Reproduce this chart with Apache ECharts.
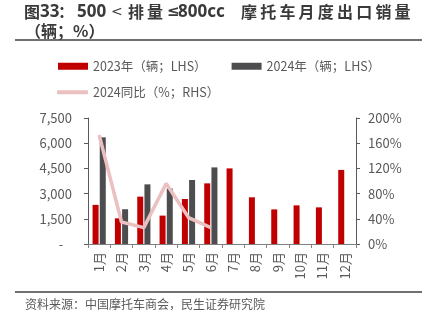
<!DOCTYPE html>
<html><head><meta charset="utf-8">
<script src="https://cdn.jsdelivr.net/npm/echarts@6/dist/echarts.min.js"></script>
<style>html,body{margin:0;padding:0;background:#fff}#c{width:436px;height:321px}</style>
</head><body><div id="c"></div>
<script>
var categories = ['1月','2月','3月','4月','5月','6月','7月','8月','9月','10月','11月','12月'];
var sales2023 = [2330, 1530, 2820, 1690, 2680, 3610, 4500, 2780, 2060, 2300, 2180, 4410];
var sales2024 = [6350, 2070, 3550, 3300, 3810, 4560, null, null, null, null, null, null];
var yoy2024 = [173, 35, 26, 96, 42, 26, null, null, null, null, null, null];
var leftTicks = [0, 7500, 1500];
var rightTicks = [0, 200, 40];

var font = '"Noto Sans CJK SC", "Noto Sans", sans-serif';
var latin = '"Noto Sans", "DejaVu Sans", sans-serif';
var grey = '#595959';
var titleColor = '#3a3a3a';
var cjkFont = 'bold 16px ' + font;
var latFont = 'bold 17px ' + latin;

// title pieces laid out to mimic the wide spacing of the original
var graphics = [];
function tpiece(text, x, f, y) {
  graphics.push({type: 'text', x: x, y: y || 12,
    style: {text: text, font: f, fill: titleColor, verticalAlign: 'middle'}});
}
tpiece('图', 24, cjkFont);
tpiece('33', 40, latFont);
tpiece('：', 58, cjkFont);
tpiece('500', 77, latFont);
tpiece('<', 111, '14px "DejaVu Sans", sans-serif');
tpiece('排', 128, cjkFont);
tpiece('量', 147, cjkFont);
tpiece('≤', 167, 'bold 15px ' + latin);
tpiece('800cc', 178, latFont);
'摩托车月度出口销量'.split('').forEach(function (ch, i) { tpiece(ch, 241 + i * 19.2, cjkFont); });
tpiece('（辆；%）', 25, cjkFont, 31);

graphics.push(
  {type: 'line', shape: {x1: 15, y1: 40, x2: 422, y2: 40}, style: {stroke: '#404040', lineWidth: 1.5}},
  {type: 'line', shape: {x1: 15, y1: 292, x2: 422, y2: 292}, style: {stroke: '#404040', lineWidth: 1.5}},
  {type: 'text', x: 25, y: 298, style: {text: '资料来源：中国摩托车商会，民生证券研究院', font: '12px ' + font, fill: grey}}
);

var chart = echarts.init(document.getElementById('c'), null, {renderer: 'canvas'});
chart.setOption({
  animation: false,
  textStyle: {fontFamily: font},
  graphic: graphics,
  legend: [
    {left: 53, top: 55, itemWidth: 30, itemHeight: 7, itemGap: 25, icon: 'rect',
     textStyle: {fontSize: 12.5, color: grey, fontFamily: font},
     data: ['2023年（辆；LHS）', '2024年（辆；LHS）']},
    {left: 52, top: 81, itemWidth: 31, itemHeight: 4, icon: 'roundRect',
     textStyle: {fontSize: 12.5, color: grey, fontFamily: font},
     data: ['2024同比（%；RHS）']}
  ],
  grid: {left: 88, right: 80, top: 118, bottom: 77, containLabel: false},
  xAxis: {
    type: 'category', data: categories,
    axisLine: {lineStyle: {color: '#808080', width: 1}},
    axisTick: {show: true, alignWithLabel: false, length: 4, lineStyle: {color: '#808080'}},
    axisLabel: {rotate: 90, fontSize: 13, color: grey, margin: 8, interval: 0}
  },
  yAxis: [
    {type: 'value', min: leftTicks[0], max: leftTicks[1], interval: leftTicks[2],
     splitLine: {show: false},
     axisLine: {show: true, lineStyle: {color: '#595959'}},
     axisTick: {show: true, length: 4, lineStyle: {color: '#595959'}},
     axisLabel: {fontSize: 13, color: grey, margin: 16,
       formatter: function (v) { return v === 0 ? '-   ' : v.toLocaleString('en-US'); }}},
    {type: 'value', min: rightTicks[0], max: rightTicks[1], interval: rightTicks[2],
     splitLine: {show: false},
     axisLine: {show: true, lineStyle: {color: '#595959'}},
     axisTick: {show: true, length: 4, lineStyle: {color: '#595959'}},
     axisLabel: {fontSize: 13, color: grey, margin: 12, formatter: '{value}%'}}
  ],
  series: [
    {name: '2023年（辆；LHS）', type: 'bar', data: sales2023, barWidth: 6, barGap: '20%', itemStyle: {color: '#C00000'}},
    {name: '2024年（辆；LHS）', type: 'bar', data: sales2024, barWidth: 6, barGap: '20%', itemStyle: {color: '#4D4D4F'}},
    {name: '2024同比（%；RHS）', type: 'line', yAxisIndex: 1, data: yoy2024, symbol: 'none',
     lineStyle: {color: '#EBC0C0', width: 3.5}, itemStyle: {color: '#EBC0C0'}}
  ]
});
</script></body></html>
